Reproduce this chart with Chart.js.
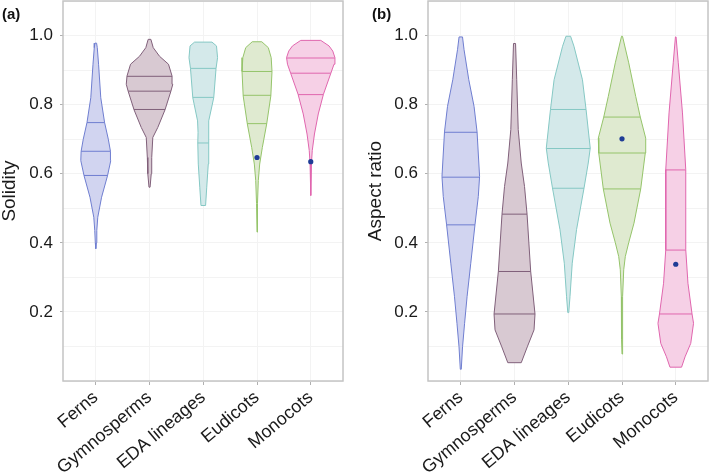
<!DOCTYPE html>
<html><head><meta charset="utf-8">
<script src="https://cdn.jsdelivr.net/npm/chart.js@4.4.1/dist/chart.umd.min.js"></script>
<style>
html,body{margin:0;padding:0;background:#fff;width:709px;height:472px;overflow:hidden;font-family:'Liberation Sans',Arial,sans-serif;}
.panel{position:absolute;top:0;}
.tag{position:absolute;font-weight:bold;font-size:15px;color:#111;line-height:15px;}
</style></head><body>
<div class="panel" style="left:0;width:350px;height:472px"><canvas id="c1" width="350" height="472"></canvas></div>
<div class="panel" style="left:350px;width:359px;height:472px"><canvas id="c2" width="359" height="472"></canvas></div>
<div class="tag" style="left:2px;top:6px">(a)</div>
<div class="tag" style="left:372px;top:6px">(b)</div>
<script>
// ---------- DATA ----------
const categories = ['Ferns', 'Gymnosperms', 'EDA lineages', 'Eudicots', 'Monocots'];
const yTickLabels = [0.2, 0.4, 0.6, 0.8, 1.0];

// Violin outlines: [value, half-width of density (category units)]
const solFerns = [[0.383,0],[0.40,0.009],[0.436,0.019],[0.474,0.037],[0.532,0.108],[0.594,0.218],[0.638,0.279],[0.665,0.273],[0.70,0.233],[0.748,0.164],[0.82,0.093],[0.917,0.052],[0.965,0.028],[0.978,0.015]];
const solGymno = [[0.561,0.01],[0.60,0.032],[0.647,0.041],[0.705,0.061],[0.734,0.154],[0.785,0.288],[0.838,0.396],[0.859,0.433],[0.883,0.419],[0.917,0.353],[0.94,0.186],[0.965,0.069],[0.989,0.025]];
const solEDA = [[0.508,0.043],[0.561,0.065],[0.628,0.093],[0.689,0.102],[0.72,0.097],[0.753,0.106],[0.82,0.195],[0.905,0.238],[0.936,0.266],[0.970,0.246],[0.981,0.162]];
const solEudicots = [[0.431,0],[0.514,0.009],[0.58,0.024],[0.628,0.05],[0.676,0.099],[0.744,0.18],[0.825,0.257],[0.896,0.279],[0.936,0.264],[0.965,0.21],[0.982,0.089]];
const solMonocots = [[0.537,0],[0.63,0.013],[0.667,0.028],[0.715,0.069],[0.773,0.14],[0.83,0.236],[0.89,0.372],[0.917,0.433],[0.936,0.45],[0.955,0.41],[0.970,0.34],[0.986,0.186]];

const aspFerns = [[0.034,0.009],[0.099,0.033],[0.167,0.071],[0.244,0.117],[0.341,0.186],[0.452,0.264],[0.534,0.326],[0.592,0.35],[0.721,0.303],[0.795,0.247],[0.872,0.149],[0.959,0.061],[0.996,0.032]];
const aspGymno = [[0.053,0.125],[0.099,0.238],[0.148,0.363],[0.194,0.381],[0.317,0.301],[0.483,0.233],[0.563,0.186],[0.631,0.125],[0.728,0.069],[0.872,0.041],[0.977,0.019]];
const aspEDA = [[0.198,0.009],[0.244,0.032],[0.341,0.074],[0.438,0.154],[0.559,0.294],[0.631,0.372],[0.674,0.409],[0.786,0.331],[0.872,0.264],[0.969,0.106],[0.998,0.043]];
const aspEudicots = [[0.078,0],[0.121,0.009],[0.244,0.013],[0.322,0.032],[0.36,0.061],[0.40,0.124],[0.457,0.223],[0.556,0.348],[0.66,0.433],[0.703,0.441],[0.764,0.34],[0.824,0.255],[0.921,0.125],[0.998,0.009]];
const aspMonocots = [[0.04,0.108],[0.07,0.173],[0.109,0.279],[0.167,0.331],[0.194,0.303],[0.283,0.227],[0.38,0.186],[0.476,0.186],[0.612,0.186],[0.776,0.125],[0.921,0.047],[0.996,0.006]];

// Quartiles [q1, median, q3]
const solidityQuartiles = [[0.595,0.665,0.748],[0.786,0.839,0.882],[0.689,0.821,0.905],[0.745,0.827,0.896],[0.829,0.891,0.935]];
const aspectQuartiles = [[0.452,0.59,0.72],[0.194,0.317,0.483],[0.558,0.673,0.786],[0.556,0.66,0.764],[0.194,0.379,0.611]];

// Highlighted points
const solidityMarkers = [null, null, null, 0.647, 0.635];
const aspectMarkers = [null, null, null, 0.701, 0.338];

// ---------- STYLE ----------
const FONT = "'Liberation Sans', Arial, sans-serif";
const fills = ['#d1d4f0', '#d8c9d2', '#d4e9ea', '#dfead0', '#f6d0e6'];
const lines = ['#6f7ed0', '#80607a', '#85c8c4', '#95c46a', '#e066ae'];

function halfWidthAt(profile, v) {
  if (v <= profile[0][0]) return profile[0][1];
  for (let k = 1; k < profile.length; k++) {
    const [v0, w0] = profile[k - 1], [v1, w1] = profile[k];
    if (v <= v1) return w0 + (w1 - w0) * (v - v0) / (v1 - v0);
  }
  return profile[profile.length - 1][1];
}

function violinDatasets(profiles, quartiles, markers) {
  const ds = [];
  profiles.forEach((p, i) => {
    const right = p.map(([v, w]) => ({x: i + w, y: v}));
    const left = p.slice().reverse().map(([v, w]) => ({x: i - w, y: v}));
    const pts = right.concat(left);
    pts.push(pts[0]);
    ds.push({data: pts, showLine: true, fill: 'shape', backgroundColor: fills[i], borderColor: lines[i],
             borderWidth: 1, pointRadius: 0, tension: 0, order: 3});
    quartiles[i].forEach(q => {
      const w = halfWidthAt(p, q);
      ds.push({data: [{x: i - w, y: q}, {x: i + w, y: q}], showLine: true, fill: false,
               borderColor: lines[i], borderWidth: 1, pointRadius: 0, order: 2});
    });
    if (markers[i] != null) {
      ds.push({data: [{x: i, y: markers[i]}], showLine: false, pointRadius: 2.6,
               backgroundColor: '#1f3c96', borderWidth: 0, order: 1});
    }
  });
  return ds;
}

const frame = {
  id: 'frame',
  afterDatasetsDraw(chart) {
    const {ctx, chartArea: a} = chart;
    ctx.save();
    ctx.strokeStyle = '#c4c4c4';
    ctx.lineWidth = 1.5;
    ctx.strokeRect(a.left, a.top, a.right - a.left, a.bottom - a.top);
    ctx.restore();
  }
};

function makeChart(id, title, datasets, yWidth, titlePad, padRight) {
  return new Chart(document.getElementById(id), {
    type: 'scatter',
    data: {datasets},
    options: {
      responsive: false, animation: false, devicePixelRatio: 1, events: [],
      layout: {autoPadding: false, padding: {top: 1, right: padRight, left: 0, bottom: 0}},
      plugins: {legend: {display: false}, tooltip: {enabled: false}},
      scales: {
        x: {
          type: 'linear', min: -0.61, max: 4.6,
          afterBuildTicks: s => { s.ticks = categories.map((c, i) => ({value: i})); },
          afterFit: s => { s.height = 91; s.paddingLeft = 0; s.paddingRight = 0; },
          ticks: {callback: v => categories[Math.round(v)], minRotation: 40, maxRotation: 40, autoSkip: false,
                  font: {family: FONT, size: 18}, color: '#1a1a1a', padding: 2},
          grid: {color: '#f3f3f3', tickColor: '#b0b0b0', tickLength: 4},
          border: {display: false}
        },
        y: {
          type: 'linear', min: 0, max: 1.1,
          afterBuildTicks: s => { const t = []; for (let k = 0; k <= 11; k++) t.push({value: k / 10}); s.ticks = t; },
          afterFit: s => { s.width = yWidth; s.paddingTop = 0; s.paddingBottom = 0; },
          ticks: {callback: v => yTickLabels.some(t => Math.abs(t - v) < 1e-6) ? v.toFixed(1) : '',
                  font: {family: FONT, size: 17}, color: '#1a1a1a', padding: 7},
          grid: {color: '#f3f3f3', tickLength: 3,
                 tickColor: c => (c.tick && yTickLabels.some(t => Math.abs(t - c.tick.value) < 1e-6)) ? '#b0b0b0' : 'rgba(0,0,0,0)'},
          border: {display: false},
          title: {display: true, text: title, font: {family: FONT, size: 19, lineHeight: 1}, color: '#1a1a1a',
                  padding: {top: titlePad, bottom: 0}}
        }
      }
    },
    plugins: [frame]
  });
}

makeChart('c1', 'Solidity',
  violinDatasets([solFerns, solGymno, solEDA, solEudicots, solMonocots], solidityQuartiles, solidityMarkers),
  63, 0.5, 7);
makeChart('c2', 'Aspect ratio',
  violinDatasets([aspFerns, aspGymno, aspEDA, aspEudicots, aspMonocots], aspectQuartiles, aspectMarkers),
  78, 16, 1);
</script>
</body></html>
